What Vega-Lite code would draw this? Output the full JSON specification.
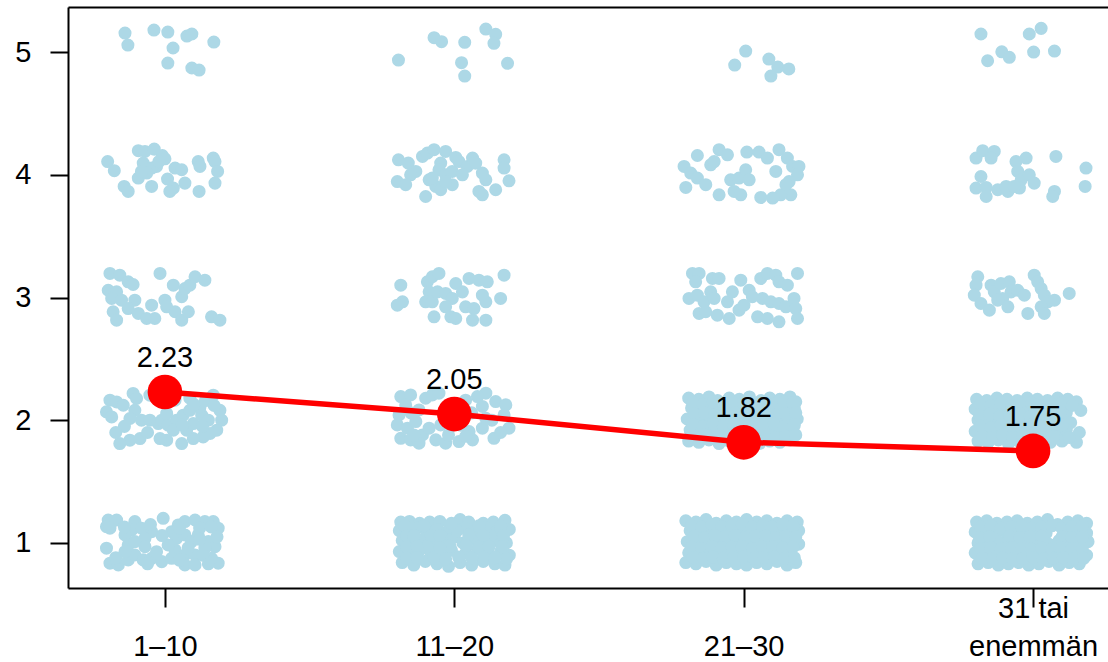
{
"$schema": "https://vega.github.io/schema/vega-lite/v6.json",
"width": 1040,
"height": 581,
"autosize": {"type": "none"},
"padding": {"left": 68, "top": 7, "right": 0, "bottom": 74},
"background": "white",
"config": {"view": {"stroke": null}, "font": "Liberation Sans"},
"datasets": {
"pts": [
{"x":0.862,"y":5.155},{"x":0.872,"y":5.057},{"x":0.962,"y":5.179},{"x":1.010,"y":5.163},{"x":1.028,"y":5.033},{"x":1.010,"y":4.910},{"x":1.076,"y":5.130},{"x":1.093,"y":5.147},{"x":1.169,"y":5.081},{"x":1.093,"y":4.870},{"x":1.118,"y":4.853},
{"x":1.807,"y":4.935},{"x":1.930,"y":5.117},{"x":1.956,"y":5.084},{"x":2.036,"y":5.079},{"x":2.109,"y":5.187},{"x":2.143,"y":5.144},{"x":2.137,"y":5.071},{"x":2.025,"y":4.913},{"x":2.036,"y":4.804},{"x":2.184,"y":4.908},
{"x":3.007,"y":5.008},{"x":2.969,"y":4.894},{"x":3.087,"y":4.943},{"x":3.118,"y":4.878},{"x":3.156,"y":4.862},{"x":3.094,"y":4.804},
{"x":3.820,"y":5.147},{"x":3.843,"y":4.929},{"x":3.892,"y":5.002},{"x":3.918,"y":4.957},{"x":3.987,"y":5.147},{"x":4.028,"y":5.193},{"x":4.002,"y":5.000},{"x":4.074,"y":5.008},
{"x":0.802,"y":4.108},{"x":0.825,"y":4.033},{"x":0.908,"y":4.196},{"x":0.931,"y":4.190},{"x":0.963,"y":4.209},{"x":0.991,"y":4.157},{"x":1.000,"y":4.130},{"x":0.925,"y":4.095},{"x":0.971,"y":4.068},{"x":0.954,"y":4.055},{"x":0.908,"y":3.973},{"x":0.937,"y":4.014},{"x":0.954,"y":3.905},{"x":0.859,"y":3.905},{"x":0.873,"y":3.864},{"x":1.009,"y":3.965},{"x":1.029,"y":3.892},{"x":1.035,"y":4.055},{"x":1.058,"y":4.041},{"x":1.069,"y":3.932},{"x":1.115,"y":4.108},{"x":1.121,"y":4.068},{"x":1.167,"y":4.136},{"x":1.173,"y":4.108},{"x":1.182,"y":4.027},{"x":1.173,"y":3.932},{"x":1.118,"y":3.864},{"x":0.979,"y":4.108},{"x":1.017,"y":3.864},{"x":0.919,"y":4.027},
{"x":1.807,"y":4.122},{"x":1.841,"y":4.095},{"x":1.867,"y":4.027},{"x":1.849,"y":4.000},{"x":1.890,"y":4.149},{"x":1.907,"y":4.177},{"x":1.930,"y":4.204},{"x":1.970,"y":4.190},{"x":2.005,"y":4.141},{"x":2.016,"y":4.108},{"x":1.953,"y":4.095},{"x":1.947,"y":4.041},{"x":1.970,"y":4.000},{"x":1.993,"y":4.027},{"x":2.045,"y":4.068},{"x":2.063,"y":4.136},{"x":2.074,"y":4.095},{"x":2.097,"y":4.014},{"x":2.109,"y":3.959},{"x":2.143,"y":3.878},{"x":2.097,"y":3.837},{"x":2.085,"y":3.864},{"x":2.172,"y":4.122},{"x":2.172,"y":4.055},{"x":2.189,"y":3.951},{"x":1.913,"y":3.959},{"x":1.936,"y":3.905},{"x":1.901,"y":3.823},{"x":1.953,"y":3.878},{"x":1.993,"y":3.919},{"x":2.028,"y":4.000},{"x":1.803,"y":3.945},{"x":1.832,"y":3.919},{"x":1.970,"y":3.945},{"x":1.924,"y":3.973},
{"x":2.794,"y":4.068},{"x":2.817,"y":4.014},{"x":2.840,"y":4.157},{"x":2.840,"y":3.973},{"x":2.800,"y":3.897},{"x":2.869,"y":3.919},{"x":2.886,"y":4.081},{"x":2.898,"y":4.108},{"x":2.915,"y":4.204},{"x":2.944,"y":4.163},{"x":2.915,"y":3.837},{"x":2.955,"y":3.959},{"x":2.967,"y":3.864},{"x":2.990,"y":3.837},{"x":2.984,"y":3.973},{"x":3.007,"y":4.041},{"x":3.019,"y":3.959},{"x":3.011,"y":4.185},{"x":3.053,"y":4.185},{"x":3.082,"y":4.136},{"x":3.111,"y":4.027},{"x":3.122,"y":4.204},{"x":3.151,"y":4.136},{"x":3.169,"y":4.068},{"x":3.191,"y":4.068},{"x":3.186,"y":4.000},{"x":3.157,"y":3.945},{"x":3.163,"y":3.837},{"x":3.128,"y":3.837},{"x":3.059,"y":3.815},{"x":3.100,"y":3.810},{"x":3.146,"y":3.919},
{"x":3.803,"y":4.136},{"x":3.826,"y":4.196},{"x":3.866,"y":4.190},{"x":3.855,"y":4.136},{"x":3.820,"y":3.986},{"x":3.803,"y":3.892},{"x":3.838,"y":3.897},{"x":3.838,"y":3.823},{"x":3.878,"y":3.878},{"x":3.913,"y":3.864},{"x":3.907,"y":3.905},{"x":3.941,"y":4.108},{"x":3.976,"y":4.136},{"x":3.947,"y":4.027},{"x":3.959,"y":3.959},{"x":3.987,"y":4.000},{"x":4.004,"y":3.932},{"x":3.953,"y":3.892},{"x":4.079,"y":4.149},{"x":4.074,"y":3.864},{"x":4.068,"y":3.823},{"x":4.183,"y":4.055},{"x":4.180,"y":3.905},{"x":3.935,"y":3.905},
{"x":0.810,"y":3.196},{"x":0.844,"y":3.182},{"x":0.873,"y":3.128},{"x":0.890,"y":3.106},{"x":0.804,"y":3.059},{"x":0.833,"y":3.046},{"x":0.816,"y":2.992},{"x":0.850,"y":2.978},{"x":0.896,"y":2.978},{"x":0.821,"y":2.884},{"x":0.833,"y":2.815},{"x":0.873,"y":2.910},{"x":0.908,"y":2.870},{"x":0.937,"y":2.829},{"x":0.954,"y":2.937},{"x":0.983,"y":3.196},{"x":1.029,"y":3.100},{"x":1.000,"y":2.978},{"x":1.006,"y":2.924},{"x":1.058,"y":3.006},{"x":1.069,"y":3.073},{"x":1.086,"y":3.100},{"x":1.104,"y":3.169},{"x":1.138,"y":3.141},{"x":1.035,"y":2.884},{"x":1.058,"y":2.815},{"x":1.081,"y":2.884},{"x":1.161,"y":2.843},{"x":1.190,"y":2.815},{"x":0.965,"y":2.829},
{"x":1.815,"y":3.100},{"x":1.821,"y":2.965},{"x":1.803,"y":2.937},{"x":1.907,"y":3.128},{"x":1.924,"y":3.169},{"x":1.947,"y":3.196},{"x":1.913,"y":3.046},{"x":1.901,"y":2.965},{"x":1.924,"y":2.965},{"x":1.942,"y":3.046},{"x":1.970,"y":3.033},{"x":1.993,"y":2.992},{"x":2.005,"y":3.114},{"x":2.051,"y":3.155},{"x":2.085,"y":3.141},{"x":2.114,"y":3.128},{"x":2.172,"y":3.182},{"x":2.160,"y":2.992},{"x":2.097,"y":3.019},{"x":2.109,"y":2.965},{"x":2.039,"y":2.924},{"x":2.068,"y":2.910},{"x":1.930,"y":2.843},{"x":1.988,"y":2.843},{"x":2.005,"y":2.829},{"x":2.063,"y":2.815},{"x":2.109,"y":2.815},{"x":1.970,"y":2.924},{"x":2.028,"y":3.046},
{"x":2.823,"y":3.196},{"x":2.846,"y":3.196},{"x":2.834,"y":3.128},{"x":2.892,"y":3.155},{"x":2.915,"y":3.155},{"x":2.811,"y":2.992},{"x":2.840,"y":3.019},{"x":2.863,"y":2.965},{"x":2.886,"y":3.046},{"x":2.898,"y":2.992},{"x":2.846,"y":2.870},{"x":2.869,"y":2.884},{"x":2.909,"y":2.856},{"x":2.950,"y":2.829},{"x":2.944,"y":2.965},{"x":2.961,"y":3.046},{"x":2.990,"y":3.141},{"x":2.984,"y":2.897},{"x":3.019,"y":3.059},{"x":3.030,"y":3.006},{"x":3.059,"y":3.155},{"x":3.082,"y":3.196},{"x":3.111,"y":3.182},{"x":3.122,"y":3.128},{"x":3.151,"y":3.100},{"x":3.186,"y":3.196},{"x":3.065,"y":2.992},{"x":3.094,"y":2.965},{"x":3.122,"y":2.951},{"x":3.146,"y":2.924},{"x":3.174,"y":2.992},{"x":3.180,"y":2.910},{"x":3.048,"y":2.843},{"x":3.082,"y":2.829},{"x":3.122,"y":2.802},{"x":3.186,"y":2.829},{"x":3.001,"y":2.937},
{"x":3.809,"y":3.169},{"x":3.803,"y":3.100},{"x":3.797,"y":3.019},{"x":3.820,"y":2.951},{"x":3.849,"y":2.897},{"x":3.855,"y":3.100},{"x":3.866,"y":3.046},{"x":3.889,"y":3.114},{"x":3.918,"y":3.128},{"x":3.924,"y":3.046},{"x":3.895,"y":2.992},{"x":3.913,"y":2.924},{"x":3.947,"y":3.059},{"x":3.970,"y":3.019},{"x":4.004,"y":3.182},{"x":4.016,"y":3.128},{"x":4.028,"y":3.073},{"x":4.039,"y":3.019},{"x":4.051,"y":2.965},{"x":4.074,"y":2.978},{"x":4.028,"y":2.924},{"x":3.982,"y":2.870},{"x":4.039,"y":2.870},{"x":4.125,"y":3.033},{"x":3.878,"y":2.978},
{"x":0.810,"y":2.163},{"x":0.833,"y":2.149},{"x":0.856,"y":2.122},{"x":0.798,"y":2.068},{"x":0.816,"y":2.027},{"x":0.890,"y":2.218},{"x":0.902,"y":2.177},{"x":0.896,"y":2.081},{"x":0.879,"y":2.014},{"x":0.919,"y":2.000},{"x":0.948,"y":2.000},{"x":0.977,"y":1.973},{"x":0.989,"y":2.000},{"x":1.011,"y":1.959},{"x":1.040,"y":2.000},{"x":1.063,"y":2.041},{"x":1.086,"y":2.081},{"x":1.098,"y":1.973},{"x":1.127,"y":2.041},{"x":1.121,"y":2.108},{"x":1.167,"y":2.204},{"x":1.190,"y":2.081},{"x":1.196,"y":2.000},{"x":1.179,"y":1.919},{"x":1.156,"y":1.892},{"x":1.132,"y":1.864},{"x":1.098,"y":1.851},{"x":1.058,"y":1.810},{"x":1.006,"y":1.837},{"x":0.983,"y":1.851},{"x":0.914,"y":1.851},{"x":0.879,"y":1.837},{"x":0.844,"y":1.810},{"x":1.029,"y":1.919},{"x":1.075,"y":1.919},{"x":1.006,"y":2.055},{"x":0.948,"y":2.204},{"x":1.035,"y":2.163},{"x":1.086,"y":2.180},
{"x":1.100,"y":2.130},{"x":1.140,"y":2.160},{"x":1.150,"y":2.000},{"x":1.060,"y":1.960},{"x":1.130,"y":1.950},{"x":0.940,"y":1.900},{"x":0.860,"y":1.950},{"x":0.830,"y":1.900},{"x":1.170,"y":2.120},
{"x":1.815,"y":2.193},{"x":1.849,"y":2.206},{"x":1.832,"y":2.125},{"x":1.809,"y":2.043},{"x":1.803,"y":1.962},{"x":1.838,"y":1.935},{"x":1.867,"y":1.989},{"x":1.878,"y":2.084},{"x":1.901,"y":2.179},{"x":1.924,"y":2.206},{"x":1.947,"y":2.220},{"x":1.815,"y":1.853},{"x":1.849,"y":1.840},{"x":1.890,"y":1.880},{"x":1.913,"y":1.935},{"x":1.936,"y":1.840},{"x":1.970,"y":1.813},{"x":2.016,"y":1.826},{"x":2.063,"y":1.840},{"x":2.051,"y":1.908},{"x":2.097,"y":1.935},{"x":2.109,"y":2.016},{"x":2.097,"y":2.112},{"x":2.143,"y":2.152},{"x":2.178,"y":2.125},{"x":2.172,"y":2.043},{"x":2.189,"y":1.935},{"x":2.137,"y":1.853},{"x":2.109,"y":2.220},{"x":2.080,"y":2.193},{"x":1.953,"y":1.962},{"x":1.982,"y":2.016},{"x":1.878,"y":1.813},{"x":2.005,"y":2.122},{"x":2.039,"y":2.163},{"x":2.022,"y":1.959},
{"x":2.130,"y":2.000},{"x":2.060,"y":2.060},{"x":1.860,"y":1.880},{"x":1.980,"y":1.880},{"x":2.160,"y":1.900},{"x":1.850,"y":2.060},{"x":2.040,"y":1.870},
{"x":2.81,"y":2.18},{"x":2.845,"y":2.17},{"x":2.88,"y":2.19},{"x":2.91,"y":2.16},{"x":2.95,"y":2.18},{"x":2.985,"y":2.17},{"x":3.02,"y":2.19},{"x":3.06,"y":2.16},{"x":3.09,"y":2.18},{"x":3.125,"y":2.17},{"x":3.16,"y":2.19},{"x":3.18,"y":2.15},
{"x":2.82,"y":2.10},{"x":2.85,"y":2.08},{"x":2.89,"y":2.11},{"x":2.925,"y":2.09},{"x":2.96,"y":2.07},{"x":3.00,"y":2.10},{"x":3.035,"y":2.08},{"x":3.07,"y":2.11},{"x":3.105,"y":2.09},{"x":3.14,"y":2.07},{"x":3.175,"y":2.10},
{"x":2.805,"y":2.01},{"x":2.84,"y":1.99},{"x":2.875,"y":2.02},{"x":2.91,"y":2.00},{"x":2.945,"y":1.98},{"x":2.98,"y":2.02},{"x":3.015,"y":2.00},{"x":3.05,"y":1.99},{"x":3.085,"y":2.02},{"x":3.12,"y":2.00},{"x":3.155,"y":1.98},{"x":3.185,"y":2.01},
{"x":2.815,"y":1.92},{"x":2.85,"y":1.90},{"x":2.885,"y":1.93},{"x":2.92,"y":1.91},{"x":2.955,"y":1.89},{"x":2.99,"y":1.92},{"x":3.03,"y":1.90},{"x":3.065,"y":1.93},{"x":3.10,"y":1.91},{"x":3.135,"y":1.89},{"x":3.17,"y":1.92},
{"x":2.81,"y":1.83},{"x":2.845,"y":1.82},{"x":2.88,"y":1.84},{"x":2.915,"y":1.81},{"x":2.95,"y":1.83},{"x":2.985,"y":1.82},{"x":3.02,"y":1.84},{"x":3.055,"y":1.81},{"x":3.09,"y":1.83},{"x":3.125,"y":1.82},{"x":3.16,"y":1.84},
{"x":2.825,"y":2.14},{"x":2.86,"y":2.13},{"x":2.895,"y":2.15},{"x":2.93,"y":2.13},{"x":2.965,"y":2.14},{"x":3.00,"y":2.15},{"x":3.035,"y":2.13},{"x":3.07,"y":2.14},{"x":3.105,"y":2.13},{"x":3.14,"y":2.15},{"x":3.17,"y":2.14},
{"x":2.83,"y":2.05},{"x":2.865,"y":2.06},{"x":2.90,"y":2.04},{"x":2.935,"y":2.05},{"x":2.97,"y":2.06},{"x":3.005,"y":2.04},{"x":3.04,"y":2.05},{"x":3.075,"y":2.06},{"x":3.11,"y":2.04},{"x":3.145,"y":2.05},{"x":3.18,"y":2.06},
{"x":2.825,"y":1.96},{"x":2.86,"y":1.95},{"x":2.895,"y":1.97},{"x":2.93,"y":1.95},{"x":2.965,"y":1.96},{"x":3.00,"y":1.97},{"x":3.035,"y":1.95},{"x":3.07,"y":1.96},{"x":3.105,"y":1.97},{"x":3.14,"y":1.95},{"x":3.175,"y":1.96},
{"x":2.83,"y":1.87},{"x":2.865,"y":1.88},{"x":2.90,"y":1.86},{"x":2.935,"y":1.87},{"x":2.97,"y":1.88},{"x":3.005,"y":1.86},{"x":3.04,"y":1.87},{"x":3.075,"y":1.88},{"x":3.11,"y":1.86},{"x":3.145,"y":1.87},{"x":3.18,"y":1.88},
{"x":3.805,"y":2.17},{"x":3.84,"y":2.16},{"x":3.875,"y":2.18},{"x":3.91,"y":2.17},{"x":3.945,"y":2.16},{"x":3.98,"y":2.18},{"x":4.015,"y":2.17},{"x":4.05,"y":2.16},{"x":4.085,"y":2.18},{"x":4.12,"y":2.17},{"x":4.15,"y":2.15},
{"x":3.80,"y":2.09},{"x":3.835,"y":2.07},{"x":3.87,"y":2.10},{"x":3.905,"y":2.08},{"x":3.94,"y":2.06},{"x":3.975,"y":2.09},{"x":4.01,"y":2.07},{"x":4.045,"y":2.10},{"x":4.08,"y":2.08},{"x":4.115,"y":2.06},{"x":4.165,"y":2.08},
{"x":3.81,"y":2.00},{"x":3.845,"y":1.98},{"x":3.88,"y":2.01},{"x":3.915,"y":1.99},{"x":3.95,"y":1.97},{"x":3.985,"y":2.01},{"x":4.02,"y":1.99},{"x":4.055,"y":1.98},{"x":4.09,"y":2.02},{"x":4.13,"y":1.98},
{"x":3.80,"y":1.91},{"x":3.835,"y":1.89},{"x":3.87,"y":1.92},{"x":3.905,"y":1.90},{"x":3.94,"y":1.92},{"x":3.975,"y":1.89},{"x":4.01,"y":1.91},{"x":4.045,"y":1.93},{"x":4.08,"y":1.90},{"x":4.115,"y":1.92},{"x":4.16,"y":1.90},
{"x":3.81,"y":1.83},{"x":3.845,"y":1.82},{"x":3.88,"y":1.84},{"x":3.915,"y":1.81},{"x":3.95,"y":1.83},{"x":3.985,"y":1.82},{"x":4.02,"y":1.84},{"x":4.06,"y":1.82},{"x":4.10,"y":1.83},{"x":4.15,"y":1.82},
{"x":3.82,"y":2.13},{"x":3.855,"y":2.12},{"x":3.89,"y":2.14},{"x":3.925,"y":2.12},{"x":3.96,"y":2.13},{"x":3.995,"y":2.14},{"x":4.03,"y":2.12},{"x":4.065,"y":2.13},{"x":4.10,"y":2.14},{"x":4.135,"y":2.12},
{"x":3.815,"y":2.04},{"x":3.85,"y":2.05},{"x":3.885,"y":2.03},{"x":3.92,"y":2.04},{"x":3.955,"y":2.05},{"x":3.99,"y":2.03},{"x":4.025,"y":2.04},{"x":4.06,"y":2.05},{"x":4.095,"y":2.04},
{"x":3.82,"y":1.95},{"x":3.855,"y":1.94},{"x":3.89,"y":1.96},{"x":3.925,"y":1.95},{"x":3.96,"y":1.94},{"x":3.995,"y":1.96},{"x":4.03,"y":1.95},{"x":4.065,"y":1.94},{"x":4.10,"y":1.96},
{"x":3.825,"y":1.87},{"x":3.86,"y":1.86},{"x":3.895,"y":1.88},{"x":3.93,"y":1.86},{"x":3.965,"y":1.87},{"x":4.00,"y":1.88},{"x":4.035,"y":1.86},{"x":4.07,"y":1.87},{"x":4.125,"y":1.86},
{"x":0.804,"y":1.187},{"x":0.833,"y":1.187},{"x":0.798,"y":1.133},{"x":0.810,"y":1.120},{"x":0.896,"y":1.174},{"x":0.885,"y":1.106},{"x":0.862,"y":1.065},{"x":0.919,"y":1.120},{"x":0.954,"y":1.092},{"x":0.994,"y":1.201},{"x":0.931,"y":1.038},{"x":0.873,"y":0.984},{"x":0.896,"y":1.011},{"x":0.931,"y":0.970},{"x":0.798,"y":0.957},{"x":0.810,"y":0.835},{"x":0.839,"y":0.821},{"x":0.873,"y":0.862},{"x":0.896,"y":0.902},{"x":0.925,"y":0.862},{"x":0.954,"y":0.875},{"x":0.989,"y":0.848},{"x":0.971,"y":0.929},{"x":1.023,"y":1.092},{"x":1.046,"y":1.147},{"x":1.069,"y":1.174},{"x":1.104,"y":1.187},{"x":1.138,"y":1.174},{"x":1.167,"y":1.174},{"x":1.184,"y":1.120},{"x":1.040,"y":1.038},{"x":1.069,"y":1.065},{"x":1.092,"y":1.011},{"x":1.115,"y":1.065},{"x":1.150,"y":1.011},{"x":1.173,"y":0.970},{"x":1.138,"y":0.957},{"x":1.035,"y":0.943},{"x":1.069,"y":0.902},{"x":1.104,"y":0.902},{"x":1.069,"y":0.821},{"x":1.104,"y":0.821},{"x":1.023,"y":0.875},{"x":1.184,"y":0.835},{"x":1.161,"y":0.875},{"x":0.862,"y":0.929},{"x":1.011,"y":0.984},
{"x":1.050,"y":1.120},{"x":1.120,"y":1.120},{"x":1.160,"y":1.130},{"x":1.080,"y":0.960},{"x":1.130,"y":0.900},{"x":1.050,"y":0.860},{"x":1.150,"y":0.830},{"x":0.990,"y":1.060},{"x":0.950,"y":1.150},{"x":0.860,"y":1.130},{"x":0.830,"y":0.880},{"x":0.940,"y":0.830},{"x":1.120,"y":1.030},{"x":1.180,"y":1.050},
{"x":1.815,"y":1.17},{"x":1.845,"y":1.175},{"x":1.88,"y":1.16},{"x":1.915,"y":1.17},{"x":1.95,"y":1.175},{"x":2.02,"y":1.19},{"x":2.05,"y":1.17},{"x":2.10,"y":1.16},{"x":2.135,"y":1.17},{"x":2.175,"y":1.185},
{"x":1.81,"y":1.10},{"x":1.84,"y":1.09},{"x":1.87,"y":1.12},{"x":1.905,"y":1.10},{"x":1.94,"y":1.11},{"x":1.975,"y":1.09},{"x":2.035,"y":1.12},{"x":2.07,"y":1.10},{"x":2.11,"y":1.12},{"x":2.145,"y":1.09},{"x":2.19,"y":1.11},
{"x":1.82,"y":1.02},{"x":1.855,"y":1.00},{"x":1.89,"y":1.03},{"x":1.925,"y":0.99},{"x":1.965,"y":1.02},{"x":2.00,"y":1.05},{"x":2.03,"y":1.00},{"x":2.065,"y":1.03},{"x":2.10,"y":0.99},{"x":2.14,"y":1.02},{"x":2.18,"y":1.00},
{"x":1.81,"y":0.93},{"x":1.85,"y":0.91},{"x":1.88,"y":0.94},{"x":1.92,"y":0.92},{"x":1.955,"y":0.90},{"x":1.99,"y":0.94},{"x":2.04,"y":0.92},{"x":2.08,"y":0.95},{"x":2.12,"y":0.91},{"x":2.16,"y":0.93},{"x":2.19,"y":0.90},
{"x":1.82,"y":0.84},{"x":1.86,"y":0.82},{"x":1.90,"y":0.85},{"x":1.94,"y":0.83},{"x":1.98,"y":0.81},{"x":2.02,"y":0.84},{"x":2.06,"y":0.82},{"x":2.10,"y":0.85},{"x":2.14,"y":0.83},{"x":2.175,"y":0.82},
{"x":1.83,"y":1.135},{"x":1.895,"y":1.14},{"x":1.985,"y":1.13},{"x":2.085,"y":1.14},{"x":2.16,"y":1.135},
{"x":1.835,"y":1.055},{"x":1.92,"y":1.06},{"x":2.05,"y":1.065},{"x":2.125,"y":1.055},{"x":2.17,"y":1.06},
{"x":1.835,"y":0.965},{"x":1.905,"y":0.97},{"x":1.985,"y":0.975},{"x":2.085,"y":0.965},{"x":2.165,"y":0.97},
{"x":1.835,"y":0.875},{"x":1.93,"y":0.88},{"x":2.015,"y":0.885},{"x":2.10,"y":0.88},{"x":2.18,"y":0.87},
{"x":1.860,"y":1.060},{"x":1.950,"y":1.060},{"x":2.010,"y":1.100},{"x":2.100,"y":1.060},{"x":1.870,"y":0.970},{"x":1.950,"y":0.960},{"x":2.040,"y":0.980},{"x":2.120,"y":0.970},{"x":1.870,"y":0.880},{"x":1.970,"y":0.870},{"x":2.060,"y":0.880},{"x":2.140,"y":0.880},{"x":1.990,"y":1.160},
{"x":2.80,"y":1.18},{"x":2.835,"y":1.17},{"x":2.87,"y":1.19},{"x":2.905,"y":1.16},{"x":2.94,"y":1.18},{"x":2.975,"y":1.17},{"x":3.01,"y":1.19},{"x":3.045,"y":1.17},{"x":3.08,"y":1.18},{"x":3.115,"y":1.16},{"x":3.15,"y":1.18},{"x":3.185,"y":1.17},
{"x":2.815,"y":1.10},{"x":2.85,"y":1.09},{"x":2.885,"y":1.11},{"x":2.92,"y":1.08},{"x":2.955,"y":1.10},{"x":2.99,"y":1.12},{"x":3.025,"y":1.09},{"x":3.06,"y":1.10},{"x":3.095,"y":1.08},{"x":3.13,"y":1.11},{"x":3.165,"y":1.09},{"x":3.19,"y":1.10},
{"x":2.805,"y":1.01},{"x":2.84,"y":1.00},{"x":2.875,"y":1.02},{"x":2.91,"y":0.99},{"x":2.945,"y":1.01},{"x":2.98,"y":1.03},{"x":3.015,"y":1.00},{"x":3.05,"y":0.99},{"x":3.085,"y":1.02},{"x":3.12,"y":1.00},{"x":3.155,"y":1.01},{"x":3.19,"y":0.99},
{"x":2.81,"y":0.92},{"x":2.845,"y":0.93},{"x":2.88,"y":0.91},{"x":2.915,"y":0.94},{"x":2.95,"y":0.92},{"x":2.985,"y":0.90},{"x":3.02,"y":0.93},{"x":3.055,"y":0.92},{"x":3.09,"y":0.91},{"x":3.125,"y":0.94},{"x":3.16,"y":0.92},
{"x":2.80,"y":0.84},{"x":2.835,"y":0.83},{"x":2.87,"y":0.85},{"x":2.905,"y":0.82},{"x":2.94,"y":0.84},{"x":2.975,"y":0.83},{"x":3.01,"y":0.82},{"x":3.045,"y":0.84},{"x":3.08,"y":0.83},{"x":3.115,"y":0.85},{"x":3.15,"y":0.82},{"x":3.18,"y":0.84},
{"x":2.82,"y":1.14},{"x":2.855,"y":1.13},{"x":2.89,"y":1.15},{"x":2.925,"y":1.13},{"x":2.96,"y":1.14},{"x":2.995,"y":1.15},{"x":3.03,"y":1.13},{"x":3.065,"y":1.14},{"x":3.10,"y":1.13},{"x":3.135,"y":1.15},{"x":3.17,"y":1.14},
{"x":2.83,"y":1.055},{"x":2.865,"y":1.045},{"x":2.90,"y":1.06},{"x":2.935,"y":1.05},{"x":2.97,"y":1.06},{"x":3.005,"y":1.045},{"x":3.04,"y":1.055},{"x":3.075,"y":1.06},{"x":3.11,"y":1.045},{"x":3.145,"y":1.055},{"x":3.18,"y":1.05},
{"x":2.82,"y":0.965},{"x":2.855,"y":0.955},{"x":2.89,"y":0.97},{"x":2.925,"y":0.96},{"x":2.96,"y":0.965},{"x":2.995,"y":0.97},{"x":3.03,"y":0.955},{"x":3.065,"y":0.965},{"x":3.10,"y":0.97},{"x":3.135,"y":0.96},{"x":3.17,"y":0.965},
{"x":2.825,"y":0.88},{"x":2.86,"y":0.875},{"x":2.895,"y":0.885},{"x":2.93,"y":0.875},{"x":2.965,"y":0.88},{"x":3.00,"y":0.885},{"x":3.035,"y":0.875},{"x":3.07,"y":0.88},{"x":3.105,"y":0.885},{"x":3.14,"y":0.875},{"x":3.175,"y":0.88},
{"x":3.805,"y":1.17},{"x":3.84,"y":1.18},{"x":3.875,"y":1.16},{"x":3.91,"y":1.17},{"x":3.945,"y":1.18},{"x":3.98,"y":1.16},{"x":4.015,"y":1.17},{"x":4.05,"y":1.19},{"x":4.085,"y":1.15},{"x":4.12,"y":1.17},{"x":4.155,"y":1.18},{"x":4.185,"y":1.16},
{"x":3.80,"y":1.09},{"x":3.835,"y":1.10},{"x":3.87,"y":1.08},{"x":3.905,"y":1.09},{"x":3.94,"y":1.11},{"x":3.975,"y":1.09},{"x":4.01,"y":1.10},{"x":4.045,"y":1.08},{"x":4.11,"y":1.10},{"x":4.145,"y":1.09},{"x":4.185,"y":1.08},
{"x":3.81,"y":1.00},{"x":3.845,"y":0.99},{"x":3.88,"y":1.01},{"x":3.915,"y":1.02},{"x":3.95,"y":1.00},{"x":3.985,"y":0.98},{"x":4.02,"y":1.01},{"x":4.055,"y":0.99},{"x":4.09,"y":1.02},{"x":4.125,"y":1.00},{"x":4.16,"y":0.98},{"x":4.19,"y":1.01},
{"x":3.80,"y":0.92},{"x":3.835,"y":0.91},{"x":3.87,"y":0.93},{"x":3.905,"y":0.90},{"x":3.94,"y":0.92},{"x":3.975,"y":0.91},{"x":4.01,"y":0.93},{"x":4.045,"y":0.90},{"x":4.08,"y":0.92},{"x":4.115,"y":0.91},{"x":4.15,"y":0.93},{"x":4.185,"y":0.90},
{"x":3.81,"y":0.83},{"x":3.845,"y":0.84},{"x":3.88,"y":0.82},{"x":3.915,"y":0.83},{"x":3.95,"y":0.84},{"x":3.985,"y":0.82},{"x":4.02,"y":0.83},{"x":4.055,"y":0.85},{"x":4.09,"y":0.82},{"x":4.125,"y":0.84},{"x":4.16,"y":0.83},
{"x":3.82,"y":1.13},{"x":3.855,"y":1.14},{"x":3.89,"y":1.12},{"x":3.925,"y":1.13},{"x":3.96,"y":1.14},{"x":3.995,"y":1.12},{"x":4.03,"y":1.13},{"x":4.065,"y":1.14},{"x":4.10,"y":1.12},{"x":4.135,"y":1.13},{"x":4.17,"y":1.14},
{"x":3.815,"y":1.045},{"x":3.85,"y":1.05},{"x":3.92,"y":1.055},{"x":3.955,"y":1.045},{"x":3.99,"y":1.05},{"x":4.03,"y":1.055},{"x":4.10,"y":1.05},{"x":4.135,"y":1.045},{"x":4.17,"y":1.05},
{"x":3.82,"y":0.955},{"x":3.855,"y":0.96},{"x":3.89,"y":0.95},{"x":3.925,"y":0.96},{"x":3.96,"y":0.955},{"x":3.995,"y":0.95},{"x":4.03,"y":0.96},{"x":4.065,"y":0.955},{"x":4.10,"y":0.96},{"x":4.135,"y":0.95},{"x":4.17,"y":0.955},
{"x":3.825,"y":0.875},{"x":3.86,"y":0.87},{"x":3.895,"y":0.88},{"x":3.93,"y":0.87},{"x":3.965,"y":0.875},{"x":4.00,"y":0.88},{"x":4.035,"y":0.87},{"x":4.07,"y":0.875},{"x":4.105,"y":0.88},{"x":4.14,"y":0.87},{"x":4.175,"y":0.875}
],
"means": [
{"group":1,"mean":2.23,"label":"2.23"},
{"group":2,"mean":2.05,"label":"2.05"},
{"group":3,"mean":1.82,"label":"1.82"},
{"group":4,"mean":1.75,"label":"1.75"}
]
},
"layer": [
{
"data": {"name": "pts"},
"mark": {"type": "circle", "color": "#ADD8E6", "opacity": 1, "size": 170},
"encoding": {
"x": {"field": "x", "type": "quantitative", "scale": {"domain": [0.665, 4.259], "nice": false, "zero": false},
"axis": {"values": [1,2,3,4], "labelExpr": "datum.value == 1 ? ['', '1\u201310'] : datum.value == 2 ? ['', '11\u201320'] : datum.value == 3 ? ['', '21\u201330'] : ['31 tai', 'enemm\u00e4n']",
"title": null, "grid": false, "domainColor": "black", "domainWidth": 2, "tickColor": "black", "tickWidth": 2, "tickSize": 19,
"labelFont": "Liberation Sans", "labelFontSize": 29, "labelColor": "black", "labelBaseline": "alphabetic", "labelPadding": 10, "labelLineHeight": 38,
"labelFlush": false, "labelOverlap": false, "labelBound": false}},
"y": {"field": "y", "type": "quantitative", "scale": {"domain": [0.633, 5.367], "nice": false, "zero": false},
"axis": {"values": [1,2,3,4,5], "format": "d", "title": null, "grid": false, "domainColor": "black", "domainWidth": 2, "tickColor": "black", "tickWidth": 2, "tickSize": 18,
"labelFont": "Liberation Sans", "labelFontSize": 29, "labelColor": "black", "labelPadding": 19, "labelFlush": false, "labelOverlap": false}}
}
},
{
"data": {"name": "means"},
"mark": {"type": "line", "color": "#FF0000", "strokeWidth": 5.5},
"encoding": {
"x": {"field": "group", "type": "quantitative", "scale": {"domain": [0.665, 4.259], "nice": false, "zero": false},
"axis": {"orient": "top", "labels": false, "ticks": false, "domain": true, "domainColor": "black", "domainWidth": 2, "title": null, "grid": false}},
"y": {"field": "mean", "type": "quantitative", "scale": {"domain": [0.633, 5.367], "nice": false, "zero": false}}
}
},
{
"data": {"name": "means"},
"mark": {"type": "circle", "color": "#FF0000", "opacity": 1, "size": 1200},
"encoding": {
"x": {"field": "group", "type": "quantitative", "scale": {"domain": [0.665, 4.259], "nice": false, "zero": false}, "axis": null},
"y": {"field": "mean", "type": "quantitative", "scale": {"domain": [0.633, 5.367], "nice": false, "zero": false}}
}
},
{
"data": {"name": "means"},
"mark": {"type": "text", "font": "Liberation Sans", "fontSize": 29, "baseline": "alphabetic", "align": "center", "dy": -25, "color": "black"},
"encoding": {
"x": {"field": "group", "type": "quantitative", "scale": {"domain": [0.665, 4.259], "nice": false, "zero": false}, "axis": null},
"y": {"field": "mean", "type": "quantitative", "scale": {"domain": [0.633, 5.367], "nice": false, "zero": false}},
"text": {"field": "label", "type": "nominal"}
}
}
],
"resolve": {"axis": {"x": "independent"}}
}
